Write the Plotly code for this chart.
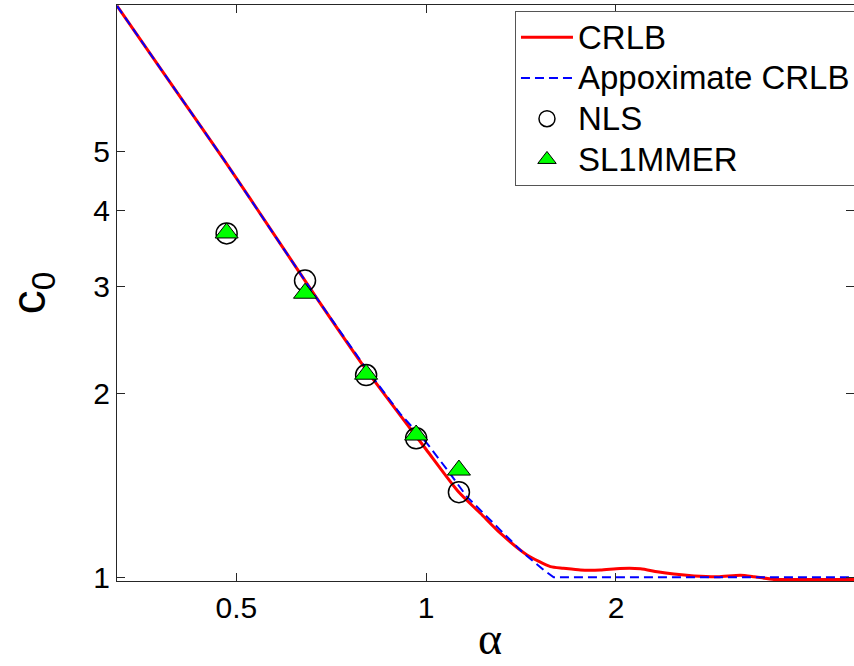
import math
import plotly.graph_objects as go

# ---- data ----
alpha_crlb = [0.3233, 0.40, 0.4764, 0.58, 0.6704, 0.803, 0.909, 1.0, 1.125, 1.22,
              1.311, 1.445, 1.574, 1.65, 1.756, 1.889, 2.03, 2.187, 2.325, 2.47,
              2.66, 2.9, 3.15, 3.31, 3.56, 4.0, 4.77]
c0_crlb = [8.65, 6.3, 4.86, 3.59, 2.87, 2.19, 1.845, 1.62, 1.381, 1.272,
           1.181, 1.088, 1.041, 1.035, 1.028, 1.028, 1.034, 1.033, 1.021, 1.012,
           1.005, 1.002, 1.0075, 1.002, 0.992, 0.992, 0.992]

alpha_approx = [0.3233, 0.4764, 0.6704, 0.803, 0.909, 1.003, 1.08, 1.16, 1.311,
                1.427, 1.536, 1.593, 4.77]
c0_approx = [8.65, 4.86, 2.87, 2.20, 1.855, 1.658, 1.50, 1.356, 1.195,
             1.095, 1.028, 1.0, 1.0]

alpha_pts = [0.4825, 0.6424, 0.803, 0.964, 1.127]
c0_nls = [3.664, 3.066, 2.146, 1.690, 1.379]
c0_sl1 = [3.67, 2.923, 2.153, 1.711, 1.499]

series_names = ["CRLB", "Appoximate CRLB", "NLS", "SL1MMER"]

x_ticks = [0.5, 1, 2]
x_ticktext = ["0.5", "1", "2"]
y_ticks = [1, 2, 3, 4, 5]
y_ticktext = ["1", "2", "3", "4", "5"]

x_range = [0.3233, 4.77]
y_range = [0.986, 8.68]

FONT = "Liberation Sans, Arial, sans-serif"


def legend_label(s):
    return "<span style='font-size:33px'>" + s + "</span>"


fig = go.Figure()
fig.add_trace(go.Scatter(
    x=alpha_crlb, y=c0_crlb, mode="lines", name=legend_label(series_names[0]),
    line=dict(color="#ff0000", width=3, shape="spline", smoothing=0.6)))
fig.add_trace(go.Scatter(
    x=alpha_approx, y=c0_approx, mode="lines", name=legend_label(series_names[1]),
    line=dict(color="#0000ff", width=2, dash="9px,5px")))
fig.add_trace(go.Scatter(
    x=alpha_pts, y=c0_nls, mode="markers", name=legend_label(series_names[2]),
    marker=dict(symbol="circle-open", size=21, color="black",
                line=dict(color="black", width=1.5))))
fig.add_trace(go.Scatter(
    x=alpha_pts, y=c0_sl1, mode="markers", name=legend_label(series_names[3]),
    marker=dict(symbol="triangle-up", size=20, color="#00ff00",
                line=dict(color="black", width=1))))

axis_common = dict(
    type="log", showgrid=False, zeroline=False, showline=True,
    linecolor="#262626", linewidth=1, mirror="ticks",
    ticks="inside", ticklen=8, tickcolor="#262626", tickwidth=1,
    tickfont=dict(family=FONT, size=30, color="black"),
    automargin=False,
)

fig.update_layout(
    width=854, height=666,
    margin=dict(l=117, r=0, t=5, b=85, autoexpand=False),
    paper_bgcolor="white", plot_bgcolor="white",
    showlegend=True,
    legend=dict(
        x=0.540, y=0.9896, xanchor="left", yanchor="top",
        bgcolor="white", bordercolor="#555555", borderwidth=1,
        font=dict(family=FONT, size=29, color="black"),
        tracegroupgap=0, itemwidth=52,
    ),
    xaxis=dict(
        range=[math.log10(x_range[0]), math.log10(x_range[1])],
        tickvals=x_ticks, ticktext=x_ticktext,
        **axis_common),
    yaxis=dict(
        range=[math.log10(y_range[0]), math.log10(y_range[1])],
        tickvals=y_ticks, ticktext=y_ticktext,
        **axis_common),
    annotations=[
        dict(text="α", xref="paper", yref="paper", x=0.506, y=-0.1476,
             xanchor="center", yanchor="bottom", showarrow=False,
             font=dict(family="Liberation Serif, Times New Roman, serif",
                       size=46, color="black")),
        dict(text="c<sub>0</sub>", xref="paper", yref="paper", x=-0.1585, y=0.50,
             xanchor="left", yanchor="middle", showarrow=False, textangle=-90,
             font=dict(family=FONT, size=48, color="black")),
    ],
)

fig.write_html("out.html",
               config={"displayModeBar": False},
               post_script="document.body.style.margin='0';document.body.style.overflow='hidden';")
